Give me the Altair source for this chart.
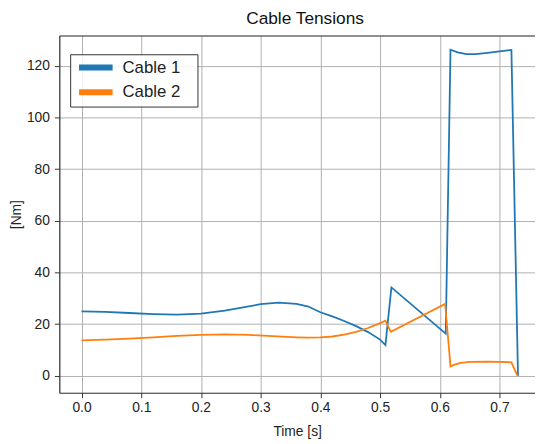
import altair as alt
import pandas as pd

# ---- data ----
c1_t = [0.0, 0.04, 0.08, 0.12, 0.16, 0.20, 0.24, 0.28, 0.30, 0.33, 0.36, 0.38,
        0.40, 0.42, 0.44, 0.46, 0.48, 0.50, 0.509, 0.519, 0.610, 0.618, 0.63,
        0.645, 0.66, 0.68, 0.70, 0.72, 0.731]
c1_v = [24.9, 24.7, 24.3, 23.9, 23.7, 24.1, 25.2, 26.9, 27.7, 28.3, 27.8, 26.8,
        24.6, 23.0, 21.2, 19.2, 16.9, 14.0, 11.9, 34.2, 16.3, 126.3, 125.3,
        124.6, 124.6, 125.1, 125.7, 126.2, 0.0]

c2_t = [0.0, 0.04, 0.08, 0.12, 0.16, 0.20, 0.24, 0.28, 0.32, 0.36, 0.38, 0.40,
        0.42, 0.44, 0.46, 0.48, 0.50, 0.509, 0.518, 0.609, 0.618, 0.625, 0.635,
        0.65, 0.68, 0.70, 0.72, 0.73]
c2_v = [13.7, 14.0, 14.4, 14.9, 15.4, 15.8, 16.0, 15.8, 15.3, 14.9, 14.8, 14.9,
        15.2, 15.9, 17.0, 18.5, 20.4, 21.3, 17.0, 27.8, 3.6, 4.3, 5.0,
        5.4, 5.5, 5.4, 5.2, 0.0]

series_names = ["Cable 1", "Cable 2"]
series_colors = ["#1f77b4", "#ff7f0e"]
x_ticks = [0.0, 0.1, 0.2, 0.3, 0.4, 0.5, 0.6, 0.7]
y_ticks = [0, 20, 40, 60, 80, 100, 120]
chart_title = ["Cable Tensions"]

df = pd.concat([
    pd.DataFrame({"t": c1_t, "v": c1_v, "series": series_names[0], "i": range(len(c1_t))}),
    pd.DataFrame({"t": c2_t, "v": c2_v, "series": series_names[1], "i": range(len(c2_t))}),
], ignore_index=True)

FONT = "Liberation Sans"
W, H = 482, 362
FRAME = "#333333"

x_scale = alt.Scale(domain=[-0.0372, 0.7595], nice=False, zero=False)
y_scale = alt.Scale(domain=[-6.6, 131.8], nice=False, zero=False)

lines = alt.Chart(df).mark_line(strokeWidth=1.8).encode(
    x=alt.X("t:Q", scale=x_scale, axis=alt.Axis(
        title="Time [s]", values=x_ticks, format=".1f", orient="bottom",
        grid=True, gridColor="#b0b0b0", gridWidth=1,
        domainColor=FRAME, domainWidth=1.2, tickColor=FRAME, tickSize=5,
        labelFont=FONT, labelFontSize=14, labelColor="#222222", labelPadding=3,
        titleFont=FONT, titleFontSize=14, titleFontWeight="normal", titleColor="#222222",
        titleY=39, titleBaseline="middle")),
    y=alt.Y("v:Q", scale=y_scale, axis=alt.Axis(
        title="[Nm]", values=y_ticks, format="d",
        grid=True, gridColor="#b0b0b0", gridWidth=1,
        domainColor=FRAME, domainWidth=1.2, tickColor=FRAME, tickSize=5,
        labelFont=FONT, labelFontSize=14, labelColor="#222222", labelPadding=5,
        titleFont=FONT, titleFontSize=14, titleFontWeight="normal", titleColor="#222222",
        titleAngle=-90, titleX=-43, titleY=H / 2, titleAlign="center",
        titleBaseline="middle")),
    color=alt.Color("series:N", scale=alt.Scale(domain=series_names, range=series_colors),
                    legend=alt.Legend(
                        title="M", titleOrient="right", titleOpacity=0, titleFontSize=10,
                        titlePadding=6,
                        orient="none", legendX=11, legendY=19,
                        symbolType="M-2,0H2", symbolSize=289, symbolStrokeWidth=6,
                        symbolOffset=12.5, labelOffset=15.5, padding=2, rowPadding=0,
                        labelFont=FONT, labelFontSize=17, labelColor="#222222",
                        fillColor="rgba(255,255,255,0.85)", strokeColor=FRAME,
                        cornerRadius=0)),
    order="i:Q",
)

top_frame = alt.Chart(df).mark_point(opacity=0).encode(
    x=alt.X("t:Q", scale=x_scale, axis=alt.Axis(
        orient="top", labels=False, ticks=False, grid=False, domain=True,
        domainColor=FRAME, domainWidth=1.2, title=None)),
)

title_text = alt.Chart(pd.DataFrame({"title": chart_title})).mark_text(
    font=FONT, fontSize=17.5, color="#111111", align="center", baseline="alphabetic"
).encode(text="title:N", x=alt.value(W / 2 + 8), y=alt.value(-12))

chart = alt.layer(lines, top_frame, title_text).resolve_axis(x="independent").properties(
    width=W, height=H,
    autosize=alt.AutoSizeParams(type="none"),
    padding={"left": 52, "top": 25, "right": 0, "bottom": 46},
).configure_view(stroke=None).configure(background="white")

chart.save("out.html", embed_options={"renderer": "svg", "actions": False})
